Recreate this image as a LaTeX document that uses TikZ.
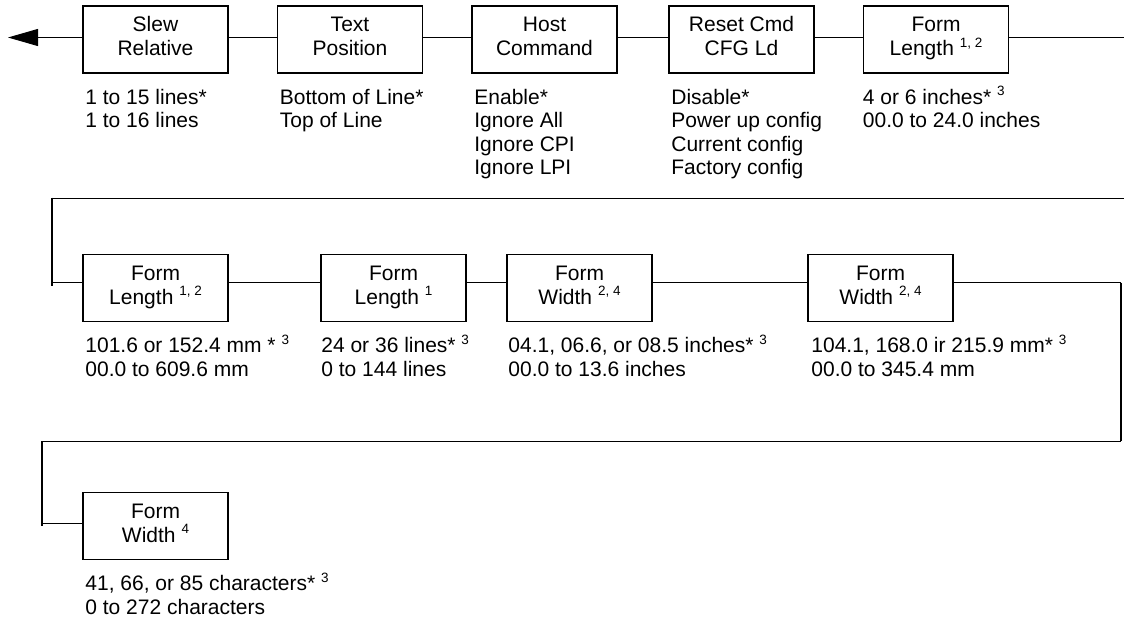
\documentclass[tikz,border=0pt]{standalone}
\usepackage{fontspec}
\setmainfont{Liberation Sans}
\usetikzlibrary{arrows.meta,calc}
\newcommand\supnote[1]{\raisebox{8.5pt}{\fontsize{13.5}{13.5}\selectfont #1}}
\newcommand\lstrut{\rule{0pt}{22pt}}
\newcommand\btop{\rule{0pt}{15pt}}
\newcommand\bbot{\rule[-7pt]{0pt}{7pt}}
\newcommand\boxtext[2]{\btop #1\\#2\bbot}
\begin{document}
\begin{tikzpicture}[x=1pt,y=-1pt,
  menubox/.style={draw,line width=1.6pt,minimum width=145pt,minimum height=67pt,
    inner sep=0pt,align=center,font=\fontsize{21}{24}\selectfont},
  opts/.style={anchor=north west,inner sep=0pt,align=left,
    font=\fontsize{21}{23.5}\selectfont},
  link/.style={line width=0.9pt},
  rail/.style={line width=1.8pt}]
\useasboundingbox (0,0) rectangle (1124,624);

% ---- row 1 ----
\node[menubox] (slew)    at (155.5,39.5) {\boxtext{Slew}{Relative}};
\node[menubox] (textpos) at (350,39.5)   {\boxtext{Text}{Position}};
\node[menubox] (host)    at (544.5,39.5) {\boxtext{Host}{Command}};
\node[menubox] (reset)   at (741.5,39.5) {\boxtext{Reset Cmd}{CFG Ld}};
\node[menubox] (flen)    at (936,39.5)   {\boxtext{Form}{Length \supnote{1, 2}}};

\node[opts] (slewopt)  at ($(slew.south west)+(3,8)$)    {\lstrut 1 to 15 lines*\\1 to 16 lines};
\node[opts] (textopt)  at ($(textpos.south west)+(3,8)$) {\lstrut Bottom of Line*\\Top of Line};
\node[opts] (hostopt)  at ($(host.south west)+(3,8)$)    {\lstrut Enable*\\Ignore All\\Ignore CPI\\Ignore LPI};
\node[opts] (resetopt) at ($(reset.south west)+(3,8)$)   {\lstrut Disable*\\Power up config\\Current config\\Factory config};
\node[opts] (flenopt)  at ($(flen.south west)+(0,8)$)    {\lstrut 4 or 6 inches* \supnote{3}\\00.0 to 24.0 inches};

\coordinate (exit) at (8,37.5);
\coordinate (out1) at (1124,37.5);
\draw[link,-{Triangle[length=30pt,width=17pt]}] ([yshift=2pt]slew.west) -- (exit);
\draw[link] ([yshift=2pt]slew.east) -- ([yshift=2pt]textpos.west);
\draw[link] ([yshift=2pt]textpos.east) -- ([yshift=2pt]host.west);
\draw[link] ([yshift=2pt]host.east) -- ([yshift=2pt]reset.west);
\draw[link] ([yshift=2pt]reset.east) -- ([yshift=2pt]flen.west);
\draw[link] ([yshift=2pt]flen.east) -- (out1);

% ---- row 2 ----
\node[menubox] (flenmm) at (155.5,288) {\boxtext{Form}{Length \supnote{1, 2}}};
\node[menubox] (flenln) at (393.5,288) {\boxtext{Form}{Length \supnote{1}}};
\node[menubox] (fwin)   at (579.5,288) {\boxtext{Form}{Width \supnote{2, 4}}};
\node[menubox] (fwmm)   at (880.5,288) {\boxtext{Form}{Width \supnote{2, 4}}};

\node[opts] (flenmmopt) at ($(flenmm.south west)+(3,8)$) {\lstrut 101.6 or 152.4 mm * \supnote{3}\\00.0 to 609.6 mm};
\node[opts] (flenlnopt) at ($(flenln.south west)+(1,8)$) {\lstrut 24 or 36 lines* \supnote{3}\\0 to 144 lines};
\node[opts] (fwinopt)   at ($(fwin.south west)+(2,8)$)   {\lstrut 04.1, 06.6, or 08.5 inches* \supnote{3}\\00.0 to 13.6 inches};
\node[opts] (fwmmopt)   at ($(fwmm.south west)+(4,8)$)   {\lstrut 104.1, 168.0 ir 215.9 mm* \supnote{3}\\00.0 to 345.4 mm};

\coordinate (in2)    at (1124,198);
\coordinate (r2top)  at (52,198);
\coordinate (r2bot)  at (52,286);
\coordinate (r2join) at (52,282.5);
\draw[link] (in2) -- (r2top);
\draw[rail] ([yshift=0.5pt]r2top) -- (r2bot);
\draw[link] (r2join) -- ([yshift=5.5pt]flenmm.west);
\draw[link] ([yshift=5.5pt]flenmm.east) -- ([yshift=5.5pt]flenln.west);
\draw[link] ([yshift=5.5pt]flenln.east) -- ([yshift=5.5pt]fwin.west);
\draw[link] ([yshift=5.5pt]fwin.east) -- ([yshift=5.5pt]fwmm.west);

\coordinate (r2right) at (1121,282.5);
\coordinate (r2down)  at (1121,441);
\coordinate (r3top)   at (42,441);
\coordinate (r3bot)   at (42,526);
\coordinate (r3join)  at (42,523);
\draw[link] ([yshift=5.5pt]fwmm.east) -- (r2right);
\draw[rail] (r2right) -- (r2down);
\draw[link] (r2down) -- (r3top);
\draw[rail] (r3top) -- (r3bot);

% ---- row 3 ----
\node[menubox] (fwch) at (155.5,526) {\boxtext{Form}{Width \supnote{4}}};
\node[opts] (fwchopt) at ($(fwch.south west)+(3,8)$) {\lstrut 41, 66, or 85 characters* \supnote{3}\\0 to 272 characters};
\draw[link] (r3join) -- ([yshift=3pt]fwch.west);
\end{tikzpicture}
\end{document}
